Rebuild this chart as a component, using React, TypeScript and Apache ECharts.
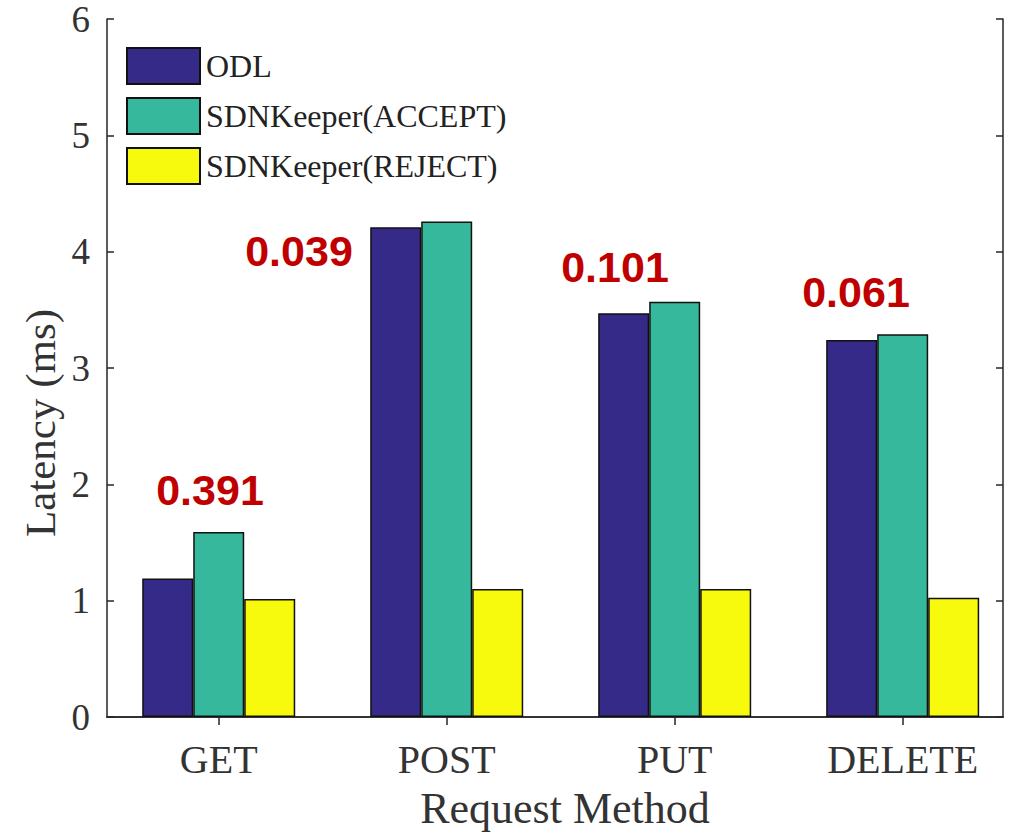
import React, { useEffect, useRef } from "react";
import * as echarts from "echarts";

const categories = ["GET", "POST", "PUT", "DELETE"];
const categoryPositions = [1, 2, 3, 4];
const odl = [1.19, 4.21, 3.47, 3.24];
const sdnAccept = [1.59, 4.26, 3.57, 3.29];
const sdnReject = [1.015, 1.1, 1.1, 1.025];
const seriesNames = ["ODL", "SDNKeeper(ACCEPT)", "SDNKeeper(REJECT)"];
const annotationTexts = ["0.391", "0.039", "0.101", "0.061"];
const yTicks = [0, 1, 2, 3, 4, 5, 6];
const xAxisTitle = "Request Method";
const yAxisTitle = "Latency (ms)";

const colors = ["#352a87", "#36b89d", "#f8fa0d"];
const annotationPos = [
  [210, 490],
  [299, 251],
  [615, 267],
  [856, 292],
];

export default function App() {
  const ref = useRef<HTMLDivElement>(null);
  useEffect(() => {
    if (!ref.current) return;
    const chart = echarts.init(ref.current, undefined, { renderer: "svg" });
    const serif = "'Liberation Serif', 'Times New Roman', serif";
    const axisLineStyle = { color: "#262626", width: 1.5 };
    const mk = (vals: number[]) => vals.map((v, i) => [categoryPositions[i], v]);
    const barSeries = [odl, sdnAccept, sdnReject].map((vals, i) => ({
      name: seriesNames[i],
      type: "bar",
      data: mk(vals),
      barWidth: 51,
      barGap: "0%",
      itemStyle: { color: colors[i], borderColor: "#111", borderWidth: 1.5 },
    }));
    chart.setOption({
      animation: false,
      backgroundColor: "#ffffff",
      grid: { left: 107, right: 22, top: 19, bottom: 119, containLabel: false },
      legend: {
        orient: "vertical",
        left: 121,
        top: 42,
        itemWidth: 73,
        itemHeight: 36,
        itemGap: 12,
        icon: "rect",
        data: seriesNames,
        textStyle: { fontFamily: serif, fontSize: 32, color: "#222", padding: [0, 0, 0, 1] },
      },
      xAxis: [
        {
          type: "value",
          min: 0.51,
          max: 4.44,
          position: "bottom",
          axisLine: { show: true, lineStyle: axisLineStyle },
          axisTick: { show: true, inside: true, length: 8, customValues: categoryPositions, lineStyle: axisLineStyle },
          axisLabel: {
            customValues: categoryPositions,
            formatter: (v: number) => categories[Math.round(v) - 1] ?? "",
            fontFamily: serif,
            fontSize: 40,
            color: "#333",
            margin: 22,
          },
          splitLine: { show: false },
        },
        {
          type: "value",
          min: 0.51,
          max: 4.44,
          position: "top",
          axisLine: { show: true, lineStyle: axisLineStyle },
          axisTick: { show: true, inside: true, length: 8, customValues: categoryPositions, lineStyle: axisLineStyle },
          axisLabel: { show: false },
          splitLine: { show: false },
        },
      ],
      yAxis: [
        {
          type: "value",
          min: 0,
          max: 6,
          interval: 1,
          position: "left",
          axisLine: { show: true, lineStyle: axisLineStyle },
          axisTick: { show: true, inside: true, length: 7, lineStyle: axisLineStyle },
          axisLabel: {
            fontFamily: serif,
            fontSize: 37,
            lineHeight: 30,
            color: "#333",
            margin: 17,
            formatter: (v: number) => (yTicks.includes(v) ? String(v) : ""),
          },
          splitLine: { show: false },
        },
        {
          type: "value",
          min: 0,
          max: 6,
          interval: 1,
          position: "right",
          axisLine: { show: true, lineStyle: axisLineStyle },
          axisTick: { show: true, inside: true, length: 7, lineStyle: axisLineStyle },
          axisLabel: { show: false },
          splitLine: { show: false },
        },
      ],
      series: barSeries,
      graphic: [
        ...annotationTexts.map((t, i) => ({
          type: "text",
          x: annotationPos[i][0],
          y: annotationPos[i][1],
          z: 100,
          style: {
            text: t,
            fill: "#c00000",
            font: "bold 43px 'Liberation Sans', Arial, sans-serif",
            textAlign: "center",
            textVerticalAlign: "middle",
          },
        })),
        {
          type: "text",
          x: 565,
          y: 808,
          style: {
            text: xAxisTitle,
            fill: "#333",
            font: "44px 'Liberation Serif', 'Times New Roman', serif",
            textAlign: "center",
            textVerticalAlign: "middle",
          },
        },
        {
          type: "text",
          x: 40,
          y: 423,
          rotation: Math.PI / 2,
          style: {
            text: yAxisTitle,
            fill: "#333",
            font: "43px 'Liberation Serif', 'Times New Roman', serif",
            textAlign: "center",
            textVerticalAlign: "middle",
          },
        },
      ],
    });
    return () => chart.dispose();
  }, []);
  return (
    <div
      ref={ref}
      style={{ position: "fixed", left: 0, top: 0, width: 1025, height: 836, background: "#fff" }}
    />
  );
}
